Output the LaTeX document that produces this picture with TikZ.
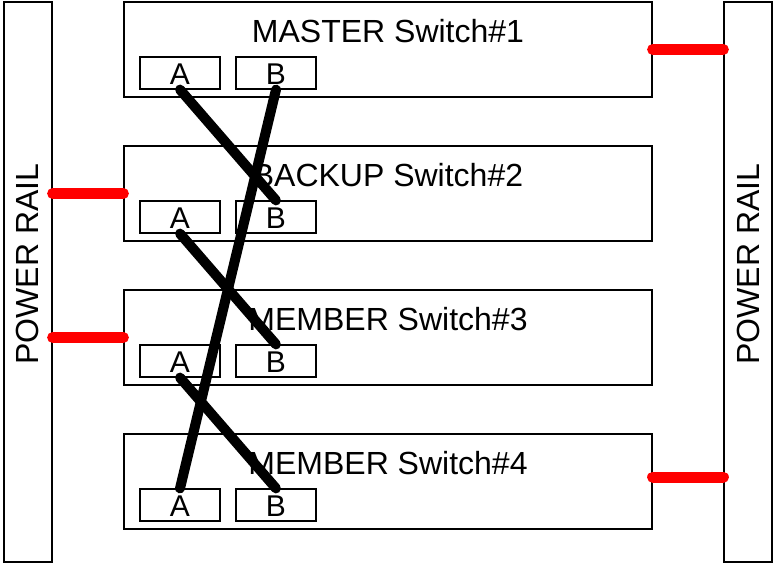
\documentclass[tikz,border=0pt]{standalone}
\usepackage{fontspec}
\setmainfont{Liberation Sans}
\begin{document}
\begin{tikzpicture}[
  x=1pt, y=-1pt,
  sw/.style={rectangle, draw, line width=1.2pt, minimum width=528pt, minimum height=95pt, inner sep=0pt},
  port/.style={rectangle, draw, line width=1.2pt, minimum width=80pt, minimum height=32pt, inner sep=0pt,
    text height=23pt, text depth=0pt, font=\fontsize{30}{34}\selectfont},
  rail/.style={rectangle, draw, line width=1.2pt, minimum width=48pt, minimum height=560pt, inner sep=0pt},
  lbl/.style={font=\fontsize{32}{38}\selectfont, inner sep=0pt},
  pwr/.style={line width=11pt, red, line cap=round},
  link/.style={line width=10pt, line cap=round}
]
  \useasboundingbox (0,0) rectangle (773,563);

  % Power rails
  \node[rail] (rl) at (28,282) {};
  \node[rail] (rr) at (748,282) {};
  \node[lbl, rotate=90] (rlt) at (27.5,264) {POWER RAIL};
  \node[lbl, rotate=90] (rrt) at (748,264) {POWER RAIL};

  % Switches
  \node[sw] (s1) at (388,49.5) {};
  \node[sw] (s2) at (388,193.5) {};
  \node[sw] (s3) at (388,337.5) {};
  \node[sw] (s4) at (388,481.5) {};

  \node[lbl, anchor=base] (t1) at (388,42) {MASTER Switch\#1};
  \node[lbl, anchor=base] (t2) at (388,186) {BACKUP Switch\#2};
  \node[lbl, anchor=base] (t3) at (388,330) {MEMBER Switch\#3};
  \node[lbl, anchor=base] (t4) at (388,474) {MEMBER Switch\#4};

  % Ports
  \node[port] (a1) at (180,73) {A};
  \node[port] (b1) at (276,73) {B};
  \node[port] (a2) at (180,217) {A};
  \node[port] (b2) at (276,217) {B};
  \node[port] (a3) at (180,361) {A};
  \node[port] (b3) at (276,361) {B};
  \node[port] (a4) at (180,505) {A};
  \node[port] (b4) at (276,505) {B};

  % Power feeds
  \draw[pwr] (s1.east) -- (s1.east -| rr.west);
  \draw[pwr] (s2.west) -- (s2.west -| rl.east);
  \draw[pwr] (s3.west) -- (s3.west -| rl.east);
  \draw[pwr] ([yshift=4.5pt]s4.east) -- ([yshift=4.5pt]s4.east -| rr.west);

  % Stack cables
  \draw[link] (a1.south) -- (b2.north);
  \draw[link] (a2.south) -- (b3.north);
  \draw[link] (a3.south) -- (b4.north);
  \draw[link] (b1.south) -- (a4.north);
\end{tikzpicture}
\end{document}
